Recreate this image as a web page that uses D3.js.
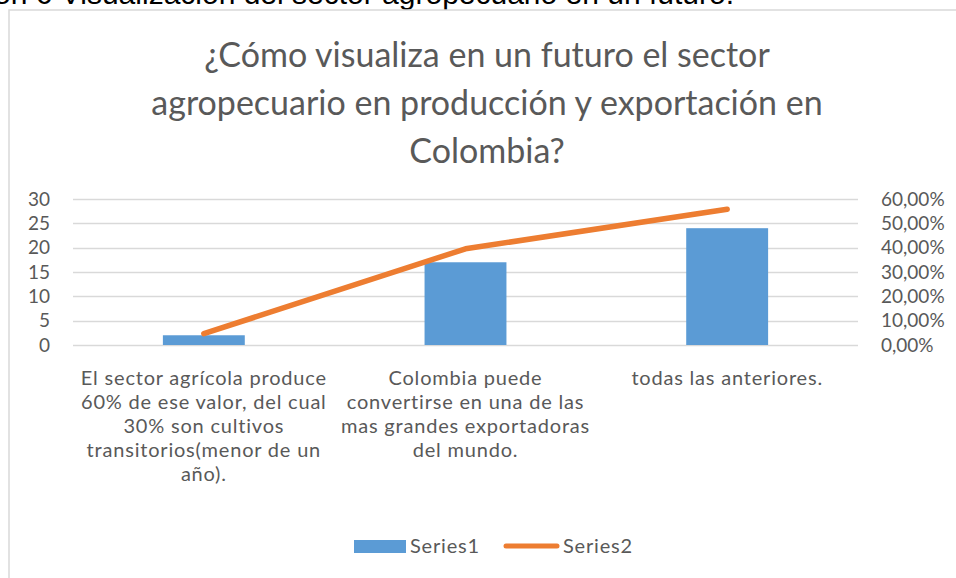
<!DOCTYPE html>
<html>
<head>
<meta charset="utf-8">
<script src="https://cdn.jsdelivr.net/npm/d3@7"></script>
<style>
  body { margin: 0; background: #fff; }
  svg { display: block; }
  text { font-family: Lato, "Open Sans", sans-serif; fill: #595959; }
</style>
</head>
<body>
<svg id="chart" width="956" height="578"></svg>
<script>
// chart data
const categories = ["c1", "c2", "c3"];
const categoryLines = [
    ["El sector agrícola produce", "60% de ese valor, del cual", "30% son cultivos", "transitorios(menor de un", "año)."],
    ["Colombia puede", "convertirse en una de las", "mas grandes exportadoras", "del mundo."],
    ["todas las anteriores."]
];
const series1 = [2, 17, 24];
const series2 = [0.0465, 0.3953, 0.5581];
const leftTicks = [0, 5, 10, 15, 20, 25, 30];
const rightTicks = [0, 0.1, 0.2, 0.3, 0.4, 0.5, 0.6];
const titleLines = ["¿Cómo visualiza en un futuro el sector", "agropecuario en producción y exportación en", "Colombia?"];
const caption = "Ilustración 6 Visualización del sector agropecuario en un futuro.";

const plot = {left: 73, right: 858, top: 199, bottom: 345};
const barColor = "#5b9bd5", lineColor = "#ed7d31", gridColor = "#d9d9d9";

const svg = d3.select("#chart");

// caption above the chart frame (cut at the top of the picture)
svg.append("text")
    .attr("x", 734).attr("y", 4)
    .attr("text-anchor", "end")
    .style("font-family", "'Liberation Sans', Arial, sans-serif")
    .style("font-size", "30px")
    .style("fill", "#000")
    .text(caption);

// chart frame
svg.append("rect")
    .attr("x", 9).attr("y", 10)
    .attr("width", 1000).attr("height", 600)
    .attr("fill", "#fff")
    .attr("stroke", gridColor)
    .attr("stroke-width", 1.5);

// title
svg.append("text")
    .attr("text-anchor", "middle")
    .style("font-size", "34px")
    .selectAll("tspan")
    .data(titleLines)
    .join("tspan")
    .attr("x", 487)
    .attr("y", (d, i) => 67 + i * 48)
    .text(d => d);

const x = d3.scaleBand()
    .domain(categories)
    .range([plot.left, plot.right])
    .paddingInner(0.687)
    .paddingOuter(0.3435);
const xc = d3.scalePoint()
    .domain(categories)
    .range([plot.left, plot.right])
    .padding(0.5);
const yL = d3.scaleLinear().domain([0, 30]).range([plot.bottom, plot.top]);
const yR = d3.scaleLinear().domain([0, 0.6]).range([plot.bottom, plot.top]);

// gridlines
svg.append("g")
    .selectAll("line")
    .data(leftTicks)
    .join("line")
    .attr("x1", plot.left).attr("x2", plot.right)
    .attr("y1", d => Math.round(yL(d)) + 0.5)
    .attr("y2", d => Math.round(yL(d)) + 0.5)
    .attr("stroke", gridColor)
    .attr("stroke-width", 1.3);

// left axis
const axisL = svg.append("g")
    .attr("transform", `translate(${plot.left},0)`)
    .call(d3.axisLeft(yL).tickValues(leftTicks).tickSize(0).tickPadding(23));
axisL.select(".domain").remove();

// right axis
const fmtPct = v => d3.format(".2f")(v * 100).replace(".", ",") + "%";
const axisR = svg.append("g")
    .attr("transform", `translate(${plot.right},0)`)
    .call(d3.axisRight(yR).tickValues(rightTicks).tickFormat(fmtPct).tickSize(0).tickPadding(23));
axisR.select(".domain").remove();
svg.selectAll(".tick text")
    .attr("fill", "#595959")
    .style("font-size", "19px")
    .style("font-family", "Lato, 'Open Sans', sans-serif");

// bars
svg.append("g")
    .selectAll("rect")
    .data(series1)
    .join("rect")
    .attr("x", (d, i) => x(categories[i]))
    .attr("width", x.bandwidth())
    .attr("y", d => yL(d))
    .attr("height", d => yL(0) - yL(d))
    .attr("fill", barColor);

// line
svg.append("path")
    .datum(series2)
    .attr("fill", "none")
    .attr("stroke", lineColor)
    .attr("stroke-width", 5.5)
    .attr("stroke-linecap", "round")
    .attr("stroke-linejoin", "round")
    .attr("d", d3.line().x((d, i) => xc(categories[i])).y(d => yR(d)));

// category labels
svg.append("g")
    .selectAll("text")
    .data(categoryLines)
    .join("text")
    .attr("text-anchor", "middle")
    .style("font-size", "20px")
    .style("letter-spacing", "0.8px")
    .each(function (lines, i) {
        d3.select(this).selectAll("tspan")
            .data(lines)
            .join("tspan")
            .attr("x", xc(categories[i]))
            .attr("y", (d, j) => 385 + j * 24)
            .text(d => d);
    });

// legend
const legend = svg.append("g");
legend.append("rect")
    .attr("x", 354).attr("y", 540)
    .attr("width", 52).attr("height", 13)
    .attr("fill", barColor);
legend.append("text")
    .attr("x", 410).attr("y", 553)
    .style("font-size", "20px")
    .style("letter-spacing", "0.8px")
    .text("Series1");
legend.append("line")
    .attr("x1", 506).attr("x2", 557)
    .attr("y1", 546).attr("y2", 546)
    .attr("stroke", lineColor)
    .attr("stroke-width", 5)
    .attr("stroke-linecap", "round");
legend.append("text")
    .attr("x", 563).attr("y", 553)
    .style("font-size", "20px")
    .style("letter-spacing", "0.8px")
    .text("Series2");
</script>
</body>
</html>
